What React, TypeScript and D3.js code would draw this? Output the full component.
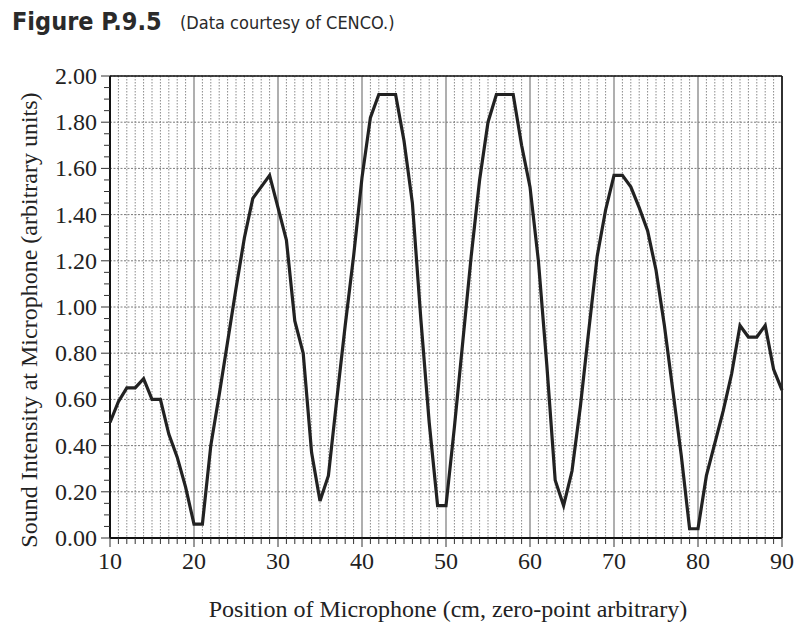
import React from "react";
import * as d3 from "d3";

const positions: number[] = d3.range(10, 91);
const intensity: number[] = [
  0.50, 0.59, 0.65, 0.65, 0.69, 0.60, 0.60, 0.45, 0.35, 0.22,
  0.06, 0.06, 0.40, 0.62, 0.85, 1.08, 1.30, 1.47, 1.52, 1.57,
  1.43, 1.29, 0.94, 0.80, 0.37, 0.16, 0.27, 0.60, 0.92, 1.22,
  1.56, 1.82, 1.92, 1.92, 1.92, 1.72, 1.45, 0.95, 0.50, 0.14,
  0.14, 0.48, 0.85, 1.22, 1.55, 1.80, 1.92, 1.92, 1.92, 1.70,
  1.52, 1.20, 0.75, 0.25, 0.14, 0.29, 0.57, 0.90, 1.22, 1.42,
  1.57, 1.57, 1.52, 1.43, 1.33, 1.16, 0.92, 0.64, 0.36, 0.04,
  0.04, 0.27, 0.41, 0.55, 0.71, 0.92, 0.87, 0.87, 0.92, 0.73,
  0.64,
];
const xTicks: number[] = [10, 20, 30, 40, 50, 60, 70, 80, 90];
const yTicks: number[] = [0, 0.2, 0.4, 0.6, 0.8, 1.0, 1.2, 1.4, 1.6, 1.8, 2.0];

const figureTitle = "Figure P.9.5";
const figureNote = "(Data courtesy of CENCO.)";
const xTitle = "Position of Microphone (cm, zero-point arbitrary)";
const yTitle = "Sound Intensity at Microphone (arbitrary units)";

export default function App() {
  const W = 800, H = 637;
  const left = 110, right = 782, top = 76, bottom = 538;
  const x = d3.scaleLinear().domain([10, 90]).range([left, right]);
  const y = d3.scaleLinear().domain([0, 2]).range([bottom, top]);
  const line = d3
    .line<number>()
    .x((_, i) => x(positions[i]))
    .y((v) => y(v));
  const serif = "'Liberation Serif', 'DejaVu Serif', serif";
  const cmMinor = d3.range(10, 91);
  const yMinor = d3.range(0, 2.0001, 0.05);
  return (
    <svg
      width={W}
      height={H}
      style={{ position: "absolute", left: 0, top: 0, background: "#fff" }}
      fontFamily={serif}
    >
      <rect x={0} y={0} width={W} height={H} fill="#fff" />
      <text
        x={12}
        y={30}
        fontFamily="'DejaVu Sans Condensed', 'Liberation Sans Narrow', 'Roboto', sans-serif"
        fontWeight="bold"
        fontSize={25}
        fill="#2a2a2a"
      >
        {figureTitle}
      </text>
      <text
        x={180}
        y={29}
        fontFamily="'Liberation Sans Narrow', 'DejaVu Sans Condensed', 'Roboto', sans-serif"
        fontSize={18}
        fill="#2a2a2a"
      >
        {figureNote}
      </text>

      {/* vertical grid every cm */}
      {cmMinor.map((c) => (
        <line
          key={"vg" + c}
          x1={x(c)}
          x2={x(c)}
          y1={top}
          y2={bottom}
          stroke={c % 10 === 0 ? "#7a7a7a" : "#8a8a8a"}
          strokeWidth={c % 10 === 0 ? 1.2 : 1}
          strokeDasharray={c % 10 === 0 ? "none" : "1.5,1.5"}
        />
      ))}
      {/* horizontal grid */}
      {yTicks.map((t) => (
        <line
          key={"hg" + t}
          x1={left}
          x2={right}
          y1={y(t)}
          y2={y(t)}
          stroke="#7a7a7a"
          strokeWidth={1}
          strokeDasharray="2,1.5"
        />
      ))}
      {/* frame */}
      <line x1={left} x2={right} y1={top} y2={top} stroke="#111" strokeWidth={1.6} />
      <line x1={right} x2={right} y1={top} y2={bottom} stroke="#111" strokeWidth={1.6} />
      <line x1={left} x2={left} y1={top} y2={bottom} stroke="#111" strokeWidth={2} />
      <line x1={left} x2={right} y1={bottom} y2={bottom} stroke="#111" strokeWidth={2} />

      {/* x ticks */}
      {cmMinor.map((c) => (
        <line
          key={"xt" + c}
          x1={x(c)}
          x2={x(c)}
          y1={bottom}
          y2={bottom + (c % 10 === 0 ? 9 : 6)}
          stroke="#333"
          strokeWidth={1}
        />
      ))}
      {/* y ticks */}
      {yMinor.map((t, i) => (
        <line
          key={"yt" + i}
          x1={left - (i % 4 === 0 ? 9 : 6)}
          x2={left}
          y1={y(t)}
          y2={y(t)}
          stroke="#333"
          strokeWidth={1}
        />
      ))}

      {xTicks.map((t) => (
        <text
          key={"xl" + t}
          x={x(t)}
          y={bottom + 31}
          textAnchor="middle"
          fontSize={24}
          fill="#222"
        >
          {t}
        </text>
      ))}
      {yTicks.map((t) => (
        <text
          key={"yl" + t}
          x={left - 13}
          y={y(t) + 8}
          textAnchor="end"
          fontSize={24}
          fill="#222"
        >
          {t.toFixed(2)}
        </text>
      ))}

      <path
        d={line(intensity) || ""}
        fill="none"
        stroke="#222"
        strokeWidth={3.2}
        strokeLinejoin="miter"
      />

      <text
        x={448}
        y={617}
        textAnchor="middle"
        fontSize={24}
        fill="#222"
      >
        {xTitle}
      </text>
      <text
        transform={`translate(37, 320) rotate(-90)`}
        textAnchor="middle"
        fontSize={24}
        fill="#222"
      >
        {yTitle}
      </text>
    </svg>
  );
}
